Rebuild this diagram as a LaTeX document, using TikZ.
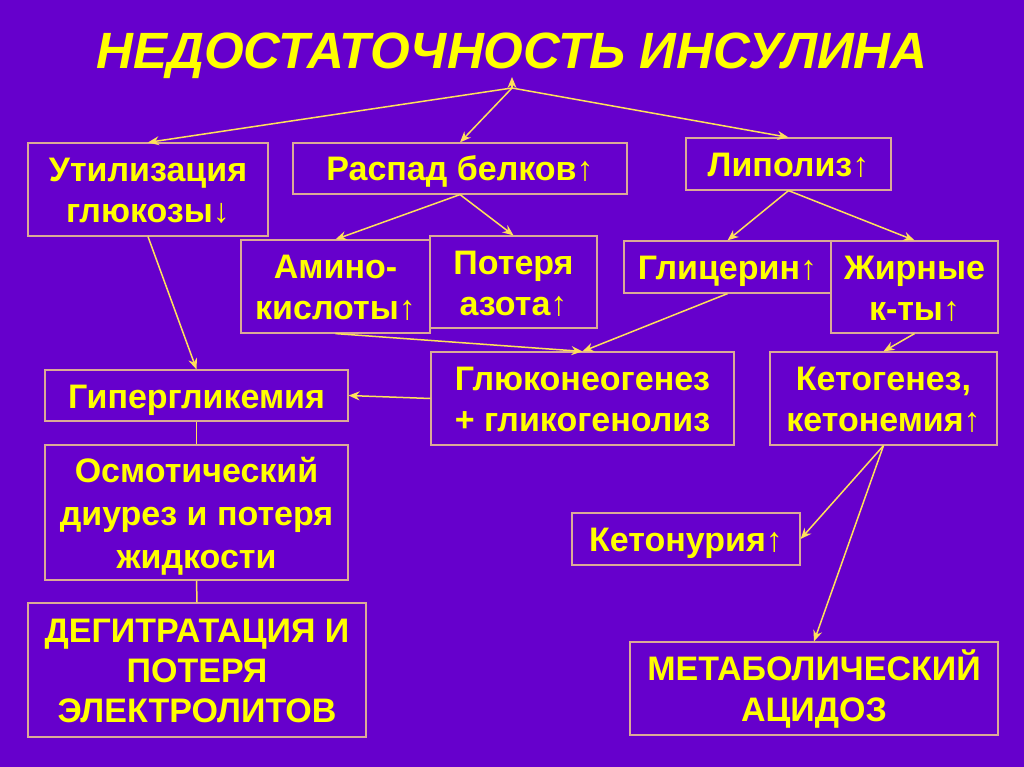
\documentclass[tikz,border=0pt]{standalone}
\usepackage{fontspec}
\setmainfont{Liberation Sans}
\usetikzlibrary{arrows.meta}
\definecolor{bgc}{RGB}{102,0,204}
\definecolor{txt}{RGB}{255,255,0}
\definecolor{brd}{RGB}{220,170,150}
\definecolor{arr}{RGB}{255,225,90}
\newcommand\tp{\rule{0pt}{35pt}}
\newcommand\bt{\rule[-10pt]{0pt}{10pt}}
\tikzset{
  box/.style={draw=brd, line width=1.2pt, text=txt, font=\fontsize{34}{41}\selectfont\bfseries,
    align=center, inner sep=0pt, anchor=center},
  con/.style={draw=arr, line width=1.5pt},
  arw/.style={con, -{Stealth[length=11pt,width=9pt]}}
}
\begin{document}
\begin{tikzpicture}[x=1pt,y=-1pt]
\fill[bgc] (0,0) rectangle (1024,767);
\useasboundingbox (0,0) rectangle (1024,767);
\node[text=txt, font=\fontsize{51}{58}\selectfont\bfseries\itshape] (title) at (512,56) {НЕДОСТАТОЧНОСТЬ ИНСУЛИНА};
\coordinate (hub) at (512,88);
\coordinate (hubtop) at (512,77);

\node[box, minimum width=240pt, minimum height=93pt] (ut) at (148,189.5) {\tp Утилизация\\глюкозы↓\bt};
\node[box, minimum width=334pt, minimum height=51pt] (ras) at (460,168.5) {\tp Распад белков↑\bt};
\node[box, minimum width=205pt, minimum height=52pt] (lip) at (788.5,164) {\tp Липолиз↑\bt};
\node[box, minimum width=189pt, minimum height=93pt] (ami) at (335.5,286.5) {\tp Амино-\\кислоты↑\bt};
\node[box, minimum width=167pt, minimum height=92pt] (pot) at (513.5,282) {\tp Потеря\\азота↑\bt};
\node[box, minimum width=207pt, minimum height=52pt] (gli) at (727.5,267) {\tp Глицерин↑\bt};
\node[box, minimum width=167pt, minimum height=92pt] (zhi) at (914.5,287) {\tp Жирные\\к-ты↑\bt};
\node[box, minimum width=303pt, minimum height=51pt] (gip) at (196.5,395.5) {\tp Гипергликемия\bt};
\node[box, minimum width=303pt, minimum height=93pt] (glu) at (582.5,398.5) {\tp Глюконеогенез\\+ гликогенолиз\bt};
\node[box, minimum width=227pt, minimum height=93pt] (ket) at (883.5,398.5) {\tp Кетогенез,\\кетонемия↑\bt};
\node[box, minimum width=303pt, minimum height=135pt, font=\fontsize{34}{43}\selectfont\bfseries] (osm) at (196.5,512.5) {\tp Осмотический\\диурез и потеря\\жидкости\bt};
\node[box, minimum width=228pt, minimum height=52pt] (ktu) at (686,539) {\tp Кетонурия↑\bt};
\node[box, minimum width=338pt, minimum height=134pt, font=\fontsize{34}{40}\selectfont\bfseries] (deg) at (197,670) {\tp ДЕГИТРАТАЦИЯ И\\ПОТЕРЯ\\ЭЛЕКТРОЛИТОВ\bt};
\node[box, minimum width=368pt, minimum height=93pt] (met) at (814,688.5) {\tp МЕТАБОЛИЧЕСКИЙ\\АЦИДОЗ\bt};

\draw[arw] (hub) -- (hubtop);
\draw[arw] (hub) -- (ut.north);
\draw[arw] (hub) -- (ras.north);
\draw[arw] (hub) -- (lip.north);
\draw[arw] (ras.south) -- (ami.north);
\draw[arw] (ras.south) -- (pot.north);
\draw[arw] (lip.south) -- (gli.north);
\draw[arw] (lip.south) -- (zhi.north);
\draw[arw] (ut.south) -- (gip.north);
\draw[arw] (ami.south) -- (glu.north);
\draw[arw] (gli.south) -- (glu.north);
\draw[arw] (zhi.south) -- (ket.north);
\draw[arw] (glu.west) -- (gip.east);
\draw[con] (gip.south) -- (osm.north);
\draw[con] (osm.south) -- (deg.north);
\draw[arw] (ket.south) -- (ktu.east);
\draw[arw] (ket.south) -- (met.north);
\end{tikzpicture}
\end{document}
